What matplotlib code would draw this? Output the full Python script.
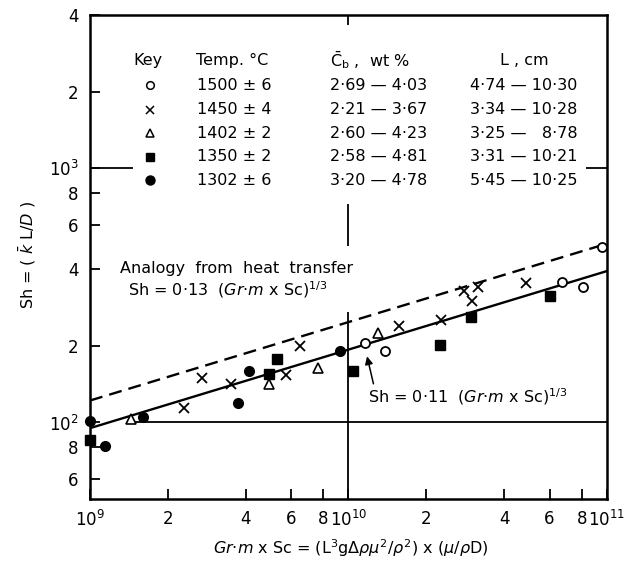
import matplotlib
matplotlib.use("Agg")
import matplotlib.pyplot as plt

# data (Gr.m x Sc, Sh)
open_x = [1.16e10, 1.38e10, 6.7e10, 8.1e10, 9.55e10]
open_y = [205, 191, 357, 342, 490]

cross_x = [2.31e9, 2.72e9, 3.52e9, 5.74e9, 6.47e9, 1.57e10, 2.28e10, 2.79e10, 3.0e10, 3.18e10, 4.85e10]
cross_y = [114, 149, 142, 154, 199, 239, 252, 330, 300, 342, 355]

tri_x = [1.44e9, 4.92e9, 7.6e9, 1.30e10]
tri_y = [103, 142, 164, 225]

sq_x = [1.0e9, 4.92e9, 5.28e9, 1.045e10, 2.26e10, 2.98e10, 6.03e10]
sq_y = [85, 155, 177, 160, 202, 260, 314]

dot_x = [1.0e9, 1.14e9, 1.6e9, 3.73e9, 4.12e9, 9.29e9]
dot_y = [101, 81, 105, 119, 159, 191]

# correlation lines (end points)
line_x = [1e9, 1e11]
solid_y = [95, 394]
dashed_y = [122, 505]

# key table
temps = ['1500 ± 6', '1450 ± 4', '1402 ± 2', '1350 ± 2', '1302 ± 6']
cb_ranges = ['2·69 — 4·03', '2·21 — 3·67', '2·60 — 4·23', '2·58 — 4·81', '3·20 — 4·78']
l_ranges = ['4·74 — 10·30', '3·34 — 10·28', '3·25 —   8·78', '3·31 — 10·21', '5·45 — 10·25']

xticks = [1e9, 2e9, 4e9, 6e9, 8e9, 1e10, 2e10, 4e10, 6e10, 8e10, 1e11]
xticklabels = ['10$^9$', '2', '4', '6', '8', '10$^{10}$', '2', '4', '6', '8', '10$^{11}$']
yticks = [60, 80, 100, 200, 400, 600, 800, 1000, 2000, 4000]
yticklabels = ['6', '8', '10$^2$', '2', '4', '6', '8', '10$^3$', '2', '4']

fig = plt.figure(figsize=(6.31, 5.62), dpi=100)
ax = fig.add_axes([0.1426, 0.112, 0.8193, 0.8612])
ax.set_xscale('log')
ax.set_yscale('log')
ax.set_xlim(1e9, 1e11)
ax.set_ylim(50, 4000)

# partial grid lines
ax.hlines(100, 1.5e9, 1e11, color='black', lw=1.3)
ax.hlines(1000, 1e9, 1.47e9, color='black', lw=1.3)
ax.hlines(1000, 8.3e10, 1e11, color='black', lw=1.3)
ax.vlines(1e10, 50, 273, color='black', lw=1.3)
ax.vlines(1e10, 493, 722, color='black', lw=1.3)
ax.vlines(1e10, 3640, 4000, color='black', lw=1.3)

ax.plot(line_x, solid_y, color='black', lw=1.7)
ax.plot(line_x, dashed_y, color='black', lw=1.7, dashes=(5.5, 3))

kw = dict(linestyle='none', color='black', clip_on=False, zorder=5)
ax.plot(open_x, open_y, marker='o', mfc='white', mew=1.3, ms=6.5, **kw)
ax.plot(cross_x, cross_y, marker='x', mew=1.3, ms=7, **kw)
ax.plot(tri_x, tri_y, marker='^', mfc='white', mew=1.2, ms=7, **kw)
ax.plot(sq_x, sq_y, marker='s', ms=6.5, **kw)
ax.plot(dot_x, dot_y, marker='o', ms=7, **kw)

for s in ax.spines.values():
    s.set_linewidth(1.8)

ax.minorticks_off()
ax.set_xticks(xticks)
ax.set_xticklabels(xticklabels)
ax.set_yticks(yticks)
ax.set_yticklabels(yticklabels)
ax.tick_params(direction='in', length=7, width=1.3, labelsize=12, pad=8)

# key
fs = 11.5
ax.text(0.112, 0.907, 'Key', ha='center', va='center', fontsize=fs, transform=ax.transAxes)
ax.text(0.205, 0.907, 'Temp. °C', ha='left', va='center', fontsize=fs, transform=ax.transAxes)
ax.text(0.464, 0.907, r'$\bar{\mathrm{C}}_\mathrm{b}$ ,  wt %', ha='left', va='center', fontsize=fs,
        transform=ax.transAxes)
ax.text(0.793, 0.907, 'L , cm', ha='left', va='center', fontsize=fs, transform=ax.transAxes)
rows = [0.855, 0.804, 0.756, 0.707, 0.659]
styles = [dict(marker='o', mfc='white', ms=5.5, mew=1.1),
          dict(marker='x', ms=5.5, mew=1.1),
          dict(marker='^', mfc='white', ms=5.5, mew=1.1),
          dict(marker='s', ms=6),
          dict(marker='o', ms=6.5)]
for i in range(5):
    ax.plot([0.116], [rows[i]], color='black', linestyle='none', transform=ax.transAxes, **styles[i])
    ax.text(0.207, rows[i], temps[i], ha='left', va='center', fontsize=fs, transform=ax.transAxes)
    ax.text(0.464, rows[i], cb_ranges[i], ha='left', va='center', fontsize=fs, transform=ax.transAxes)
    ax.text(0.735, rows[i], l_ranges[i], ha='left', va='center', fontsize=fs, transform=ax.transAxes)

# annotations
ax.text(0.058, 0.477, 'Analogy  from  heat  transfer', ha='left', va='center', fontsize=fs,
        transform=ax.transAxes)
ax.text(0.0735, 0.432, r'Sh = 0·13  ($Gr{\cdot}m$ x Sc)$^{1/3}$', ha='left', va='center', fontsize=fs,
        transform=ax.transAxes)
ax.annotate(r'Sh = 0·11  ($Gr{\cdot}m$ x Sc)$^{1/3}$', xy=(1.18e10, 182), xytext=(0.538, 0.211),
            textcoords='axes fraction', ha='left', va='center', fontsize=fs,
            arrowprops=dict(arrowstyle='-|>', color='black', lw=1.1, shrinkA=0, shrinkB=0,
                            relpos=(0.03, 1.0)))

fig.text(0.043, 0.546, r'Sh = ( $\bar{k}$ L/$D$ )', rotation=90, ha='center', va='center', fontsize=fs)
fig.text(0.555, 0.025, r'$Gr{\cdot}m$ x Sc = (L$^3$g$\Delta\rho\mu^2/\rho^2$) x ($\mu/\rho$D)',
         ha='center', va='center', fontsize=fs)

plt.savefig('out.png', dpi=100)
